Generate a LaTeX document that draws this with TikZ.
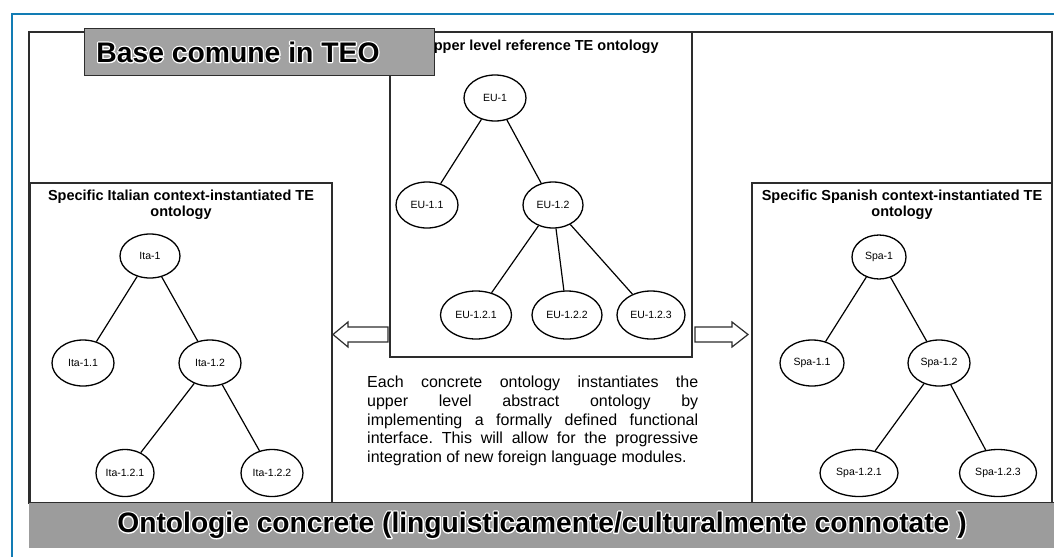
\documentclass[tikz,border=0pt]{standalone}
\usepackage{fontspec}
\setmainfont{Liberation Sans}
\usetikzlibrary{arrows.meta, positioning, calc, shapes.geometric}
\definecolor{frameblue}{RGB}{18,124,180}
\definecolor{boxline}{RGB}{45,45,45}
\definecolor{bandgray}{RGB}{156,156,156}
\definecolor{basegray}{RGB}{162,162,162}

% white outline behind the text, then the text itself
\newcommand{\halotext}[4]{%
  \node[font=#3, inner sep=0pt] (#1-halo) at (#2)
    {\special{pdf:code q 1 Tr 2.6 w 1 J 1 j 1 1 1 RG}#4\special{pdf:code Q}};
  \node[font=#3, inner sep=0pt] (#1) at (#2) {#4};}

\tikzset{
  onto/.style={ellipse, draw, line width=1.3pt, minimum width=62, minimum height=46,
    inner sep=0pt, font=\fontsize{10.5}{12}\selectfont},
  panel/.style={draw=boxline, line width=1.2pt, fill=white},
  ptitle/.style={anchor=north, align=center, inner sep=0pt,
    font=\fontsize{14.5}{16}\selectfont\bfseries},
  link/.style={line width=1.2pt},
  blockarrow/.style={draw=boxline, line width=1.2pt, fill=white, line join=miter}
}

\begin{document}
\frenchspacing
\begin{tikzpicture}[x=1pt, y=-1pt]
  \useasboundingbox (0,0) rectangle (1054,557);
  % frame and panels
  \draw[frameblue, line width=2.5pt] (12,557) -- (12,14) -- (1054,14);
  \draw[panel] (29,32) rectangle (1052,503);
  \draw[panel] (390,32) rectangle (692,357);
  \draw[panel] (30,183) rectangle (332,503);
  \draw[panel] (752,183) rectangle (1052,503);

  % upper level ontology
  \node[ptitle] (eutitle) at (541,40) {Upper level reference TE ontology};
  \node[onto] (eu1) at (495,98) {EU-1};
  \node[onto] (eu11) at (427,205) {EU-1.1};
  \node[onto, minimum width=60] (eu12) at (553,205) {EU-1.2};
  \node[onto, minimum width=71, minimum height=48] (eu121) at (476,315) {EU-1.2.1};
  \node[onto, minimum width=70, minimum height=48] (eu122) at (567,315) {EU-1.2.2};
  \node[onto, minimum width=68, minimum height=48] (eu123) at (651,315) {EU-1.2.3};
  \draw[link] (eu1) -- (eu11);
  \draw[link] (eu1) -- (eu12);
  \draw[link] (eu12) -- (eu121);
  \draw[link] (eu12) -- (eu122);
  \draw[link] (eu12) -- (eu123);

  % italian ontology
  \node[ptitle] (itatitle) at (181,190) {Specific Italian context-instantiated TE\\ontology};
  \node[onto, minimum width=60, minimum height=44] (ita1) at (150,256) {Ita-1};
  \node[onto] (ita11) at (83,363) {Ita-1.1};
  \node[onto] (ita12) at (210,363) {Ita-1.2};
  \node[onto, minimum width=58, minimum height=47] (ita121) at (125,473) {Ita-1.2.1};
  \node[onto, minimum height=47] (ita122) at (272,473) {Ita-1.2.2};
  \draw[link] (ita1) -- (ita11);
  \draw[link] (ita1) -- (ita12);
  \draw[link] (ita12) -- (ita121);
  \draw[link] (ita12) -- (ita122);

  % spanish ontology
  \node[ptitle] (spatitle) at (902,190) {Specific Spanish context-instantiated TE\\ontology};
  \node[onto, minimum width=54, minimum height=44] (spa1) at (879,257) {Spa-1};
  \node[onto, minimum width=64] (spa11) at (812,363) {Spa-1.1};
  \node[onto] (spa12) at (939,363) {Spa-1.2};
  \node[onto, minimum width=78, minimum height=47] (spa121) at (859,473) {Spa-1.2.1};
  \node[onto, minimum width=77, minimum height=47] (spa123) at (998,473) {Spa-1.2.3};
  \draw[link] (spa1) -- (spa11);
  \draw[link] (spa1) -- (spa12);
  \draw[link] (spa12) -- (spa121);
  \draw[link] (spa12) -- (spa123);

  % block arrows
  \draw[blockarrow] (388,327) -- (348,327) -- (348,322) -- (333,334.5)
    -- (348,347) -- (348,342) -- (388,342) -- cycle;
  \draw[blockarrow] (695,327) -- (732,327) -- (732,322) -- (748,334.5)
    -- (732,347) -- (732,342) -- (695,342) -- cycle;

  % explanation
  \node[anchor=north west, inner sep=0pt, text width=331pt, align=justify,
    font=\fontsize{16}{18.6}\selectfont] (note) at (367,376)
    {Each concrete ontology instantiates the\linebreak
     upper level abstract ontology by\linebreak
     implementing a formally defined functional\linebreak
     interface. This will allow for the progressive\linebreak
     integration of new foreign language modules.};

  % bottom band
  \fill[bandgray] (29,502) rectangle (1054,548);
  \draw[boxline, line width=1pt] (29,502) -- (1054,502);
  \halotext{band}{542,525}{\fontsize{28.2}{31}\selectfont\bfseries}{Ontologie concrete (linguisticamente/culturalmente connotate )}

  % label box
  \draw[draw=boxline, line width=1pt, fill=basegray] (84,28) rectangle (434,75);
  \halotext{base}{238,52}{\fontsize{28.3}{31}\selectfont\bfseries}{Base comune in TEO}
\end{tikzpicture}
\end{document}
